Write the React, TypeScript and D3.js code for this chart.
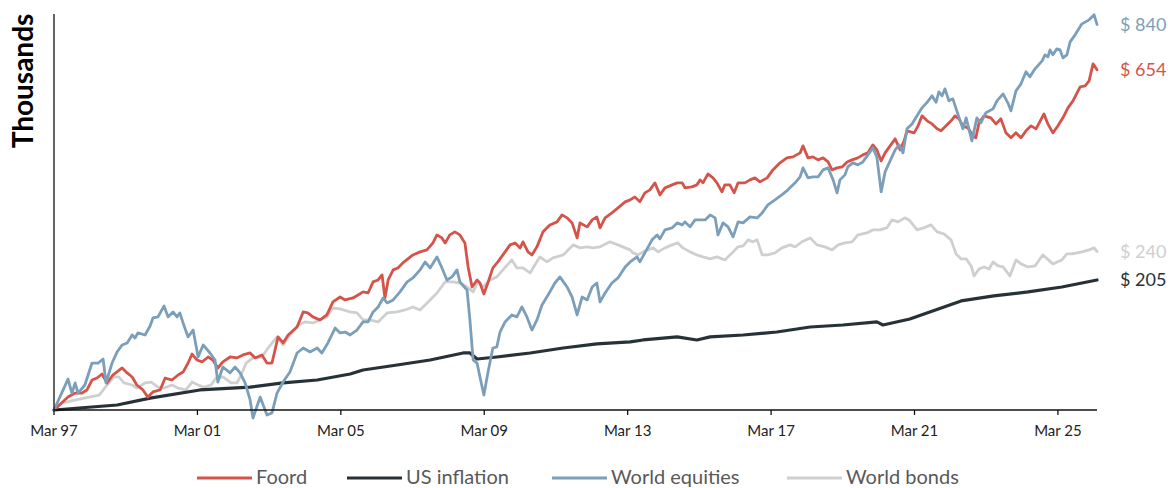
import React from "react";
import * as d3 from "d3";

// ---- data (values in thousands, time as decimal year) ----
const tickYears = [1997.17, 2001.17, 2005.17, 2009.17, 2013.17, 2017.17, 2021.17, 2025.17];
const tickLabels = ["Mar 97", "Mar 01", "Mar 05", "Mar 09", "Mar 13", "Mar 17", "Mar 21", "Mar 25"];

const foord: [number, number][] = [[1997.17,100],[1997.56,107.4],[1997.76,109.8],[1997.95,109.8],[1998.09,111.7],[1998.23,118.0],[1998.37,119.3],[1998.51,122.0],[1998.65,116.1],[1998.81,121.3],[1999.07,126.1],[1999.21,122.7],[1999.35,120.0],[1999.48,114.8],[1999.65,111.7],[1999.79,107.4],[1999.93,110.5],[2000.13,111.7],[2000.27,119.3],[2000.46,118.0],[2000.63,121.3],[2000.77,123.3],[2000.91,129.6],[2001.02,136.2],[2001.16,131.8],[2001.30,130.4],[2001.47,134.0],[2001.60,131.8],[2001.74,126.1],[2001.88,130.4],[2002.08,134.0],[2002.27,133.3],[2002.44,135.5],[2002.64,137.0],[2002.78,133.3],[2002.97,135.5],[2003.11,129.6],[2003.25,129.6],[2003.42,149.7],[2003.56,144.8],[2003.70,151.3],[2003.95,158.1],[2004.12,171.8],[2004.25,170.9],[2004.39,167.2],[2004.59,164.4],[2004.78,169.0],[2004.95,181.6],[2005.15,186.6],[2005.29,183.6],[2005.51,185.6],[2005.65,188.7],[2005.79,191.9],[2005.93,190.8],[2006.07,202.8],[2006.21,205.0],[2006.32,210.8],[2006.40,185.6],[2006.49,205.0],[2006.63,216.7],[2006.76,219.1],[2006.90,225.2],[2007.04,230.3],[2007.18,235.4],[2007.38,239.4],[2007.57,242.0],[2007.74,251.5],[2007.85,262.9],[2007.99,258.6],[2008.08,251.5],[2008.21,262.9],[2008.35,267.4],[2008.49,262.9],[2008.63,251.5],[2008.72,220.3],[2008.83,197.2],[2008.97,205.0],[2009.05,201.6],[2009.16,189.7],[2009.27,201.6],[2009.41,219.1],[2009.55,226.5],[2009.69,235.4],[2009.89,248.8],[2010.03,251.5],[2010.17,244.7],[2010.25,253.0],[2010.39,239.4],[2010.50,235.4],[2010.64,246.1],[2010.81,267.4],[2011.00,277.8],[2011.20,282.5],[2011.34,293.6],[2011.48,288.8],[2011.62,280.9],[2011.76,258.6],[2011.84,280.9],[2012.04,274.8],[2012.18,285.6],[2012.31,290.4],[2012.40,273.3],[2012.54,288.8],[2012.73,296.8],[2012.90,305.2],[2013.10,315.5],[2013.24,319.0],[2013.37,324.3],[2013.51,315.5],[2013.65,331.6],[2013.79,337.1],[2013.93,350.4],[2014.07,327.9],[2014.21,340.9],[2014.41,346.5],[2014.55,350.4],[2014.69,350.4],[2014.77,340.9],[2014.96,342.8],[2015.10,346.5],[2015.19,356.2],[2015.27,350.4],[2015.41,368.2],[2015.55,360.2],[2015.66,350.4],[2015.80,333.4],[2015.88,346.5],[2016.02,346.5],[2016.14,331.6],[2016.25,350.4],[2016.44,350.4],[2016.58,356.2],[2016.72,360.2],[2016.86,352.3],[2017.06,360.2],[2017.22,376.4],[2017.42,391.3],[2017.61,402.2],[2017.78,404.4],[2017.98,413.5],[2018.06,429.8],[2018.20,402.2],[2018.34,404.4],[2018.48,397.8],[2018.62,402.2],[2018.76,393.3],[2018.87,376.4],[2019.01,380.6],[2019.15,382.7],[2019.29,393.3],[2019.43,397.8],[2019.59,402.2],[2019.73,408.9],[2019.87,413.5],[2020.01,432.2],[2020.12,420.4],[2020.24,395.5],[2020.35,413.5],[2020.49,429.8],[2020.63,446.8],[2020.77,420.4],[2020.88,441.9],[2020.96,466.9],[2021.16,461.8],[2021.27,480.0],[2021.38,507.2],[2021.52,493.4],[2021.66,485.2],[2021.80,472.1],[2021.91,466.9],[2022.05,480.0],[2022.19,493.4],[2022.30,507.2],[2022.41,498.9],[2022.52,480.0],[2022.66,474.7],[2022.80,454.2],[2022.88,449.2],[2022.97,487.9],[2023.11,507.2],[2023.30,501.7],[2023.44,485.2],[2023.58,498.9],[2023.72,461.8],[2023.86,449.2],[2024.00,461.8],[2024.14,449.2],[2024.28,466.9],[2024.42,480.0],[2024.56,472.1],[2024.78,512.8],[2024.89,485.2],[2025.03,461.8],[2025.17,480.0],[2025.31,501.7],[2025.45,530.2],[2025.59,551.1],[2025.79,595.4],[2025.93,598.6],[2026.04,615.4],[2026.15,675.9],[2026.26,654]];

const usInflation: [number, number][] = [[1997.17,100],[1998.93,102.8],[1999.85,106.8],[2001.24,111.7],[2002.64,113.5],[2003.56,116.1],[2004.51,118.0],[2005.43,122.0],[2005.79,124.7],[2006.74,128.2],[2007.66,131.8],[2008.58,137.0],[2008.77,137.0],[2008.97,132.5],[2009.52,134.0],[2010.45,137.0],[2011.37,140.8],[2012.31,144.0],[2013.24,145.6],[2013.60,147.2],[2014.55,149.7],[2015.10,147.2],[2015.47,149.7],[2016.39,151.3],[2017.33,153.8],[2018.26,158.1],[2019.17,159.9],[2020.12,162.6],[2020.29,159.9],[2021.04,165.3],[2022.47,182.6],[2023.38,187.7],[2024.34,191.9],[2025.28,197.2],[2026.26,205]];

const worldEquities: [number, number][] = [[1997.17,100],[1997.56,118.6],[1997.67,109.8],[1997.76,116.1],[1997.84,109.8],[1998.03,114.8],[1998.23,129.6],[1998.40,129.6],[1998.54,132.5],[1998.62,116.1],[1998.79,129.6],[1998.93,137.8],[1999.07,143.2],[1999.21,144.8],[1999.35,151.3],[1999.43,148.8],[1999.51,153.0],[1999.71,151.3],[1999.85,159.0],[1999.93,166.2],[2000.07,167.2],[2000.24,177.6],[2000.35,167.2],[2000.49,171.8],[2000.60,167.2],[2000.68,170.9],[2000.77,161.7],[2000.91,149.7],[2001.05,155.5],[2001.19,134.0],[2001.33,143.2],[2001.52,137.0],[2001.66,131.8],[2001.74,116.7],[2001.88,126.8],[2002.08,122.7],[2002.22,126.8],[2002.36,122.7],[2002.50,116.1],[2002.64,105.7],[2002.72,95.7],[2002.92,107.4],[2003.11,97.3],[2003.25,98.4],[2003.39,109.8],[2003.56,116.7],[2003.75,123.3],[2003.95,137.0],[2004.12,140.8],[2004.31,137.8],[2004.51,140.8],[2004.64,137.0],[2004.81,144.8],[2005.01,157.2],[2005.15,153.0],[2005.29,153.8],[2005.43,151.3],[2005.62,155.5],[2005.79,162.6],[2005.93,162.6],[2006.07,171.8],[2006.21,176.6],[2006.35,185.6],[2006.46,180.6],[2006.63,183.6],[2006.82,191.9],[2007.02,202.8],[2007.18,207.3],[2007.38,216.7],[2007.52,226.5],[2007.66,219.1],[2007.85,232.8],[2007.99,219.1],[2008.13,205.0],[2008.27,208.5],[2008.41,216.7],[2008.49,202.8],[2008.69,194.0],[2008.77,164.4],[2008.86,131.8],[2008.97,129.6],[2009.05,120.0],[2009.16,108.6],[2009.27,122.7],[2009.41,140.8],[2009.52,141.6],[2009.61,153.8],[2009.75,162.6],[2009.94,169.0],[2010.08,167.2],[2010.22,176.6],[2010.36,167.2],[2010.50,155.5],[2010.64,164.4],[2010.78,178.6],[2010.95,188.7],[2011.14,201.6],[2011.28,208.5],[2011.48,197.2],[2011.62,186.6],[2011.76,169.0],[2011.90,186.6],[2012.04,183.6],[2012.18,197.2],[2012.31,201.6],[2012.40,181.6],[2012.54,190.8],[2012.73,201.6],[2012.90,207.3],[2013.10,220.3],[2013.24,226.5],[2013.43,232.8],[2013.51,226.5],[2013.65,238.0],[2013.85,255.8],[2013.99,262.9],[2014.07,257.2],[2014.21,270.3],[2014.41,273.3],[2014.55,280.9],[2014.69,277.8],[2014.77,282.5],[2014.91,274.8],[2015.05,285.6],[2015.19,285.6],[2015.33,285.6],[2015.47,293.6],[2015.61,288.8],[2015.69,262.9],[2015.83,280.9],[2015.97,274.8],[2016.11,260.0],[2016.25,282.5],[2016.39,280.9],[2016.58,290.4],[2016.78,288.8],[2016.92,296.8],[2017.08,310.3],[2017.28,319.0],[2017.47,327.9],[2017.64,337.1],[2017.84,350.4],[2017.98,362.2],[2018.06,380.6],[2018.20,360.2],[2018.34,362.2],[2018.48,362.2],[2018.62,376.4],[2018.76,380.6],[2018.90,356.2],[2019.01,331.6],[2019.09,356.2],[2019.23,366.2],[2019.31,382.7],[2019.45,391.3],[2019.59,387.0],[2019.73,393.3],[2019.87,408.9],[2020.01,425.1],[2020.12,404.4],[2020.24,333.4],[2020.35,372.3],[2020.49,395.5],[2020.63,420.4],[2020.74,432.2],[2020.85,413.5],[2020.96,472.1],[2021.10,485.2],[2021.24,507.2],[2021.38,530.2],[2021.52,546.4],[2021.66,566.5],[2021.77,546.4],[2021.85,579.1],[2021.94,566.5],[2022.02,588.7],[2022.13,551.1],[2022.24,557.1],[2022.35,521.4],[2022.52,472.1],[2022.61,501.7],[2022.77,441.9],[2022.91,501.7],[2023.02,487.9],[2023.16,515.8],[2023.36,527.1],[2023.47,551.1],[2023.64,572.7],[2023.78,543.4],[2023.86,521.4],[2024.00,582.2],[2024.14,605.3],[2024.28,646.8],[2024.39,629.1],[2024.53,657.6],[2024.73,687.2],[2024.81,710.3],[2024.89,702.4],[2024.95,730.2],[2025.03,710.3],[2025.14,734.2],[2025.23,730.2],[2025.31,698.6],[2025.42,710.3],[2025.51,763.1],[2025.65,793.2],[2025.84,842.9],[2026.04,861.7],[2026.18,885.8],[2026.26,840]];

const worldBonds: [number, number][] = [[1997.17,100],[1997.39,103.9],[1997.78,105.7],[1998.15,107.4],[1998.43,108.6],[1998.65,114.8],[1998.84,120.0],[1998.98,120.0],[1999.12,116.1],[1999.35,114.8],[1999.48,112.9],[1999.71,116.1],[1999.88,116.7],[2000.07,113.5],[2000.24,112.9],[2000.46,114.8],[2000.63,112.9],[2000.85,111.7],[2001.02,116.7],[2001.19,114.8],[2001.35,113.5],[2001.55,114.8],[2001.69,119.3],[2001.88,120.0],[2002.11,116.1],[2002.27,116.1],[2002.39,121.3],[2002.53,129.6],[2002.72,133.3],[2002.97,134.0],[2003.14,140.8],[2003.39,149.7],[2003.56,143.2],[2003.75,151.3],[2003.98,159.9],[2004.17,162.6],[2004.39,161.7],[2004.59,164.4],[2004.78,167.2],[2004.95,175.6],[2005.15,174.7],[2005.43,171.8],[2005.62,170.9],[2005.79,164.4],[2005.98,164.4],[2006.21,162.6],[2006.46,170.9],[2006.74,171.8],[2006.96,173.7],[2007.18,176.6],[2007.38,173.7],[2007.66,183.6],[2007.85,190.8],[2008.08,202.8],[2008.30,202.8],[2008.49,201.6],[2008.69,197.2],[2008.86,191.9],[2008.99,202.8],[2009.13,197.2],[2009.33,205.0],[2009.52,208.5],[2009.69,216.7],[2009.94,229.0],[2010.08,219.1],[2010.25,219.1],[2010.45,213.1],[2010.58,222.7],[2010.72,232.8],[2010.92,226.5],[2011.09,231.5],[2011.37,235.4],[2011.65,248.8],[2011.84,244.7],[2012.04,246.1],[2012.20,244.7],[2012.40,246.1],[2012.68,253.0],[2012.90,248.8],[2013.10,244.7],[2013.24,242.0],[2013.32,238.0],[2013.46,235.4],[2013.60,239.4],[2013.74,242.0],[2013.88,244.7],[2014.02,239.4],[2014.21,244.7],[2014.41,248.8],[2014.57,251.5],[2014.71,244.7],[2014.91,239.4],[2015.10,235.4],[2015.27,232.8],[2015.47,230.3],[2015.66,232.8],[2015.88,229.0],[2016.08,238.0],[2016.25,246.1],[2016.39,247.4],[2016.53,255.8],[2016.67,253.0],[2016.78,255.8],[2016.92,235.4],[2017.08,235.4],[2017.28,238.0],[2017.47,244.7],[2017.70,248.8],[2017.84,246.1],[2018.03,253.0],[2018.26,258.6],[2018.45,248.8],[2018.67,246.1],[2018.87,242.0],[2019.04,248.8],[2019.23,251.5],[2019.43,253.0],[2019.59,262.9],[2019.84,265.8],[2020.01,270.3],[2020.21,270.3],[2020.40,273.3],[2020.54,285.6],[2020.71,282.5],[2020.90,288.8],[2021.02,285.6],[2021.24,270.3],[2021.43,273.3],[2021.63,277.8],[2021.80,267.4],[2021.99,264.4],[2022.19,255.8],[2022.33,236.7],[2022.47,230.3],[2022.61,230.3],[2022.75,221.5],[2022.83,209.6],[2022.97,217.8],[2023.11,220.3],[2023.25,217.8],[2023.36,226.5],[2023.50,221.5],[2023.64,220.3],[2023.83,209.6],[2024.00,229.0],[2024.14,224.0],[2024.34,220.3],[2024.53,221.5],[2024.75,235.4],[2025.03,224.0],[2025.28,229.0],[2025.42,236.7],[2025.56,236.7],[2025.84,239.4],[2026.04,242.0],[2026.18,244.7],[2026.26,240]];

const seriesNames = ["Foord", "US inflation", "World equities", "World bonds"];
const seriesColors = ["#d5544a", "#263238", "#7b9fba", "#cfcfcf"];
const endLabels = ["$ 654", "$ 205", "$ 840", "$ 240"];
const allSeries = [foord, usInflation, worldEquities, worldBonds];
const drawOrder = [3, 1, 0, 2];

const FONT = "Lato, 'Open Sans', sans-serif";

export default function App() {
  const W = 1168, H = 488;
  const x = d3.scaleLinear().domain([1997.17, 2026.26]).range([54, 1097]);
  const y = d3.scaleLog().domain([100, 890]).range([410, 14]);
  const line = d3.line<[number, number]>().x(d => x(d[0])).y(d => y(d[1])).curve(d3.curveLinear);

  const legendX = [197, 347, 552, 787];

  return (
    <svg width={W} height={H} style={{ position: "absolute", left: 0, top: 0, background: "#fff" }}>
      {/* y axis title */}
      <text transform={`translate(33,81) rotate(-90)`} textAnchor="middle" fontFamily={FONT}
        fontWeight={700} fontSize={28} fill="#000">Thousands</text>

      {/* series */}
      {drawOrder.map(i => (
        <path key={i} d={line(allSeries[i]) || ""} fill="none" stroke={seriesColors[i]}
          strokeWidth={i === 1 ? 3.2 : 2.8} strokeLinejoin="round" strokeLinecap="round" />
      ))}

      {/* axes */}
      <line x1={54} x2={54} y1={14} y2={410} stroke="#111" strokeWidth={1.3} />
      <line x1={54} x2={1097} y1={410} y2={410} stroke="#111" strokeWidth={1.3} />
      {tickYears.map((t, i) => (
        <g key={t}>
          <line x1={x(t)} x2={x(t)} y1={410} y2={415} stroke="#111" strokeWidth={1.3} />
          <text x={x(t)} y={436} textAnchor="middle" fontFamily={FONT} fontSize={15} fill="#222">{tickLabels[i]}</text>
        </g>
      ))}

      {/* end labels */}
      {allSeries.map((s, i) => (
        <text key={i} x={1120} y={y(s[s.length - 1][1])} dy="0.35em" fontFamily={FONT} fontSize={18}
          fill={seriesColors[i]}>{endLabels[i]}</text>
      ))}

      {/* legend */}
      {seriesNames.map((n, i) => (
        <g key={n}>
          <line x1={legendX[i]} x2={legendX[i] + 55} y1={478} y2={478} stroke={seriesColors[i]} strokeWidth={3} />
          <text x={legendX[i] + 59} y={484} fontFamily={FONT} fontSize={20} fill="#595959">{n}</text>
        </g>
      ))}
    </svg>
  );
}
